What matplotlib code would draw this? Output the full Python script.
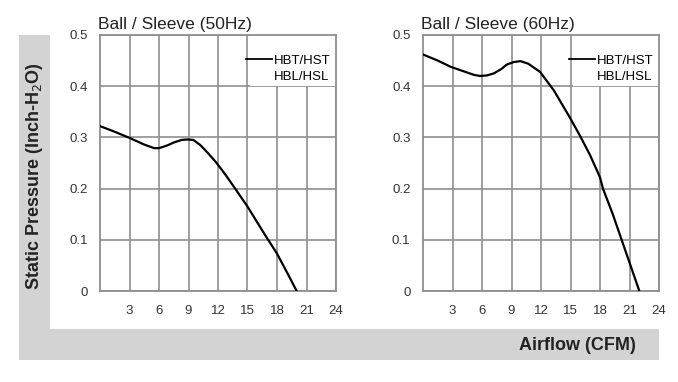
import matplotlib
matplotlib.use("Agg")
import matplotlib.pyplot as plt
from matplotlib.patches import Rectangle
from matplotlib.lines import Line2D

plt.rcParams['font.family'] = ['Liberation Sans', 'DejaVu Sans']

# data
airflow_50 = [0, 1.5, 3.0, 4.5, 5.5, 6.0, 6.8, 7.5, 8.3, 8.9, 9.5, 10.2, 11.0, 11.9, 12.8, 13.6, 15.0, 16.7, 18.0, 19.0, 20.0]
pressure_50 = [0.322, 0.311, 0.299, 0.286, 0.279, 0.279, 0.284, 0.290, 0.295, 0.296, 0.295, 0.285, 0.269, 0.249, 0.226, 0.204, 0.165, 0.112, 0.073, 0.037, 0.0]

airflow_60 = [0, 1.5, 2.8, 4.3, 5.2, 5.8, 6.5, 7.2, 8.0, 8.5, 9.2, 9.9, 10.7, 11.9, 13.3, 14.9, 16.0, 17.0, 18.0, 18.3, 19.3, 20.2, 21.1, 22.0]
pressure_60 = [0.462, 0.450, 0.438, 0.428, 0.422, 0.420, 0.421, 0.425, 0.434, 0.442, 0.447, 0.449, 0.444, 0.428, 0.392, 0.340, 0.302, 0.265, 0.222, 0.200, 0.150, 0.100, 0.050, 0.0]

panel_titles = ["Ball / Sleeve (50Hz)", "Ball / Sleeve (60Hz)"]
legend_labels = ["HBT/HST", "HBL/HSL"]
x_ticks = [3, 6, 9, 12, 15, 18, 21, 24]
y_ticks = [0, 0.1, 0.2, 0.3, 0.4, 0.5]
y_tick_labels = ["0", "0.1", "0.2", "0.3", "0.4", "0.5"]

W, H = 678, 382
fig = plt.figure(figsize=(W / 100, H / 100), dpi=100)

# gray L-shaped frame
gray = "#d3d3d3"
fig.patches.append(Rectangle((19 / W, 22 / H), 31 / W, (360 - 35) / H, transform=fig.transFigure,
                             facecolor=gray, edgecolor="none", zorder=0))
fig.patches.append(Rectangle((19 / W, 22 / H), (659 - 19) / W, 31 / H, transform=fig.transFigure,
                             facecolor=gray, edgecolor="none", zorder=0))

grid_col = "#8f8f8f"
panels = [(100, airflow_50, pressure_50), (423, airflow_60, pressure_60)]
for (left, xs, ys), title in zip(panels, panel_titles):
    ax = fig.add_axes([left / W, (H - 291) / H, 236 / W, 256 / H])
    ax.plot(xs, ys, color="black", lw=1.6, zorder=3)
    ax.set_xlim(0, 24)
    ax.set_ylim(0, 0.5)
    ax.set_xticks(x_ticks)
    ax.set_yticks(y_ticks)
    ax.set_yticklabels(y_tick_labels)
    ax.tick_params(length=0, labelsize=9.5, colors="#333333")
    ax.tick_params(axis="x", pad=10)
    ax.tick_params(axis="y", pad=9)
    ax.grid(True, color=grid_col, lw=1.2)
    ax.set_axisbelow(True)
    for s in ax.spines.values():
        s.set_color(grid_col)
        s.set_linewidth(1.3)
    ax.text(-0.01, 1.01, title, transform=ax.transAxes, ha="left", va="bottom",
            fontsize=12.5, color="#222222")

    # white box behind the legend text
    ax.add_patch(Rectangle((0.635, 0.8), 0.365, 0.2, transform=ax.transAxes,
                           facecolor="white", edgecolor="none", zorder=1.5))
    handles = [Line2D([], [], color="black", lw=1.3), Line2D([], [], color="none")]
    leg = ax.legend(handles, legend_labels, loc="upper right", bbox_to_anchor=(1.0, 0.945),
                    frameon=False, fontsize=9.5, handlelength=2.0, handletextpad=0.15,
                    labelspacing=0.3, borderaxespad=0.0)
    leg.set_zorder(4)

fig.text(35 / W, (H - 176) / H, "Static Pressure (Inch-H$_2$O)", rotation=90,
         ha="center", va="center", fontsize=13, fontweight="bold", color="#222222")
fig.text(577 / W, (H - 345) / H, "Airflow (CFM)", ha="center", va="center",
         fontsize=13, fontweight="bold", color="#222222")

fig.savefig("out.png", dpi=100)
